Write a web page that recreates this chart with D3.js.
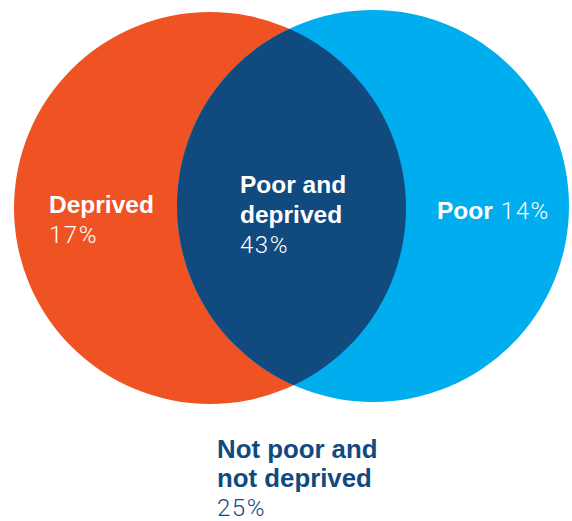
<!DOCTYPE html>
<html>
<head>
<meta charset="utf-8">
<script src="https://cdn.jsdelivr.net/npm/d3@7"></script>
<style>
  html, body { margin: 0; padding: 0; background: #ffffff; }
  svg { display: block; }
  .lbl { font-family: "Liberation Sans", Arial, Helvetica, sans-serif; font-weight: 700; font-size: 24.5px; }
  .lbl.big { font-size: 25.8px; }
  .pct { font-family: Roboto, "Liberation Sans", Arial, sans-serif; font-weight: 300; font-size: 24px; letter-spacing: 1.5px; }
</style>
</head>
<body>
<script>
// Groups of the population by poverty and deprivation status
const groups = ["Deprived", "Poor and deprived", "Poor", "Not poor and not deprived"];
const shares = [17, 43, 14, 25];           // percent of population
const labelLines = [["Deprived"], ["Poor and", "deprived"], ["Poor"], ["Not poor and", "not deprived"]];

// Sets drawn as circles
const sets = ["Deprived", "Poor"];
const setColors = { "Deprived": "#f05323", "Poor": "#00adee" };
const overlapColor = "#114a7f";
const darkText = "#114a7f";

const W = 572, H = 521;

// Layout space: unit coordinates mapped onto the page
const x = d3.scaleLinear().domain([0, 1]).range([0, W]);
const y = d3.scaleLinear().domain([0, 1]).range([0, H]);
const rScale = d3.scaleLinear().domain([0, 1]).range([0, W]);

const circleGeom = {
  "Deprived": { cx: 210 / W, cy: 208 / H, r: 196 / W },
  "Poor":     { cx: 373 / W, cy: 206 / H, r: 196 / W }
};

const svg = d3.select("body").append("svg")
  .attr("width", W).attr("height", H);

const defs = svg.append("defs");
defs.append("clipPath").attr("id", "clip-deprived")
  .append("circle")
  .attr("cx", x(circleGeom["Deprived"].cx))
  .attr("cy", y(circleGeom["Deprived"].cy))
  .attr("r", rScale(circleGeom["Deprived"].r));

// Both sets
svg.selectAll("circle.set")
  .data(sets)
  .join("circle")
  .attr("class", "set")
  .attr("cx", d => x(circleGeom[d].cx))
  .attr("cy", d => y(circleGeom[d].cy))
  .attr("r", d => rScale(circleGeom[d].r))
  .attr("fill", d => setColors[d]);

// Overlap lens: the "Poor" circle clipped to the "Deprived" circle
svg.append("circle")
  .attr("clip-path", "url(#clip-deprived)")
  .attr("cx", x(circleGeom["Poor"].cx))
  .attr("cy", y(circleGeom["Poor"].cy))
  .attr("r", rScale(circleGeom["Poor"].r))
  .attr("fill", overlapColor);

// Label placement (left x, first baseline, line step, inline percent)
const labelPos = [
  { x: 49,  y: 213, step: 30, color: "#ffffff", inline: false, big: false },
  { x: 240, y: 193, step: 30, color: "#ffffff", inline: false, big: false },
  { x: 437, y: 219, step: 30, color: "#ffffff", inline: true,  big: false },
  { x: 217, y: 458, step: 29, color: darkText,  inline: false, big: true }
];

groups.forEach((g, i) => {
  const p = labelPos[i];
  const t = svg.append("text")
    .attr("x", p.x).attr("y", p.y)
    .attr("fill", p.color);
  labelLines[i].forEach((line, j) => {
    t.append("tspan")
      .attr("class", p.big ? "lbl big" : "lbl")
      .attr("x", p.x)
      .attr("dy", j === 0 ? 0 : p.step)
      .text(line);
  });
  if (p.inline) {
    t.append("tspan").attr("class", "pct").attr("dx", 8).text(shares[i] + "%");
  } else {
    t.append("tspan").attr("class", "pct")
      .attr("x", p.x).attr("dy", p.step)
      .text(shares[i] + "%");
  }
});
</script>
</body>
</html>
